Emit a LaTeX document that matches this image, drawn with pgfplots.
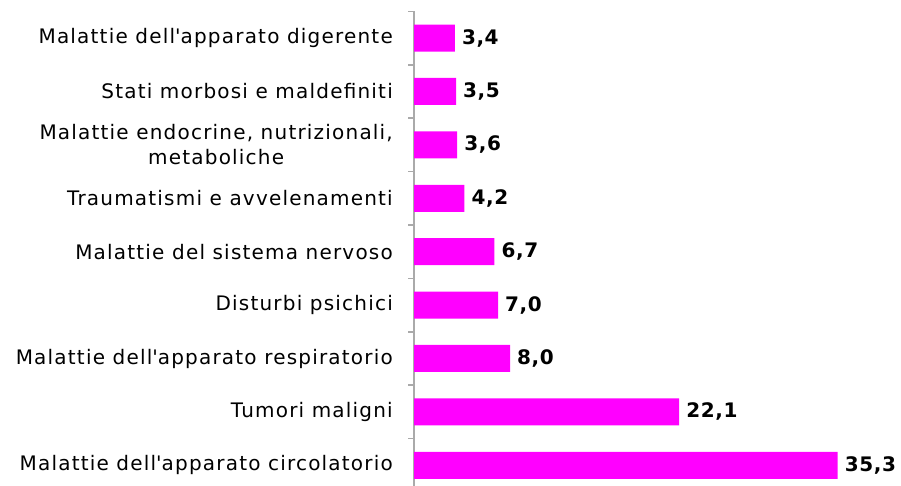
\documentclass[border=0pt]{standalone}
\usepackage{fontspec}
\setmainfont{DejaVu Sans}
\newfontfamily\labfont[LetterSpace=6]{DejaVu Sans}
\newfontfamily\numfont[LetterSpace=3]{DejaVu Sans Bold}
\usepackage{pgfplots}
\pgfplotsset{compat=1.18}
\definecolor{barmag}{RGB}{255,0,255}
\definecolor{axgray}{RGB}{170,170,170}
\begin{document}
\begin{tikzpicture}
\begin{axis}[
 at={(414pt,-6pt)}, anchor=south west,
 scale only axis, width=480pt, height=480.6pt,
 xmin=0, xmax=40,
 ymin=-0.5, ymax=8.5,
 xbar, bar width=27pt, bar shift=0pt,
 axis x line=none, axis y line*=left,
 axis line style={draw=axgray,line width=1.5pt,-},
 ytick={0,...,8},
 yticklabels={Malattie dell\textquotesingle apparato circolatorio, Tumori maligni, Malattie dell\textquotesingle apparato respiratorio, Disturbi psichici, Malattie del sistema nervoso, Traumatismi e avvelenamenti, {Malattie endocrine, nutrizionali,\\metaboliche}, Stati morbosi e maldefiniti, Malattie dell\textquotesingle apparato digerente},
 major tick length=0pt,
 minor ytick={-0.5,0.5,...,8.5}, minor tick length=6pt, tick align=outside,
 tick style={draw=axgray,line width=1.5pt},
 yticklabel style={font=\labfont\fontsize{20}{25}\selectfont, align=center, inner sep=0pt, xshift=-21pt},
 point meta=x,
 nodes near coords={\pgfmathprintnumber[use comma,fixed,fixed zerofill,precision=1,assume math mode=true]{\pgfplotspointmeta}},
 nodes near coords style={font=\numfont\fontsize{20}{22}\selectfont, anchor=west, inner sep=0pt, xshift=7pt},
 clip=false,
]
\addplot[fill=barmag, draw=none] coordinates {(35.3,0) (22.1,1) (8.0,2) (7.0,3) (6.7,4) (4.2,5) (3.6,6) (3.5,7) (3.4,8)};
\end{axis}
\pgfresetboundingbox
\useasboundingbox (0,0) rectangle (901pt,486pt);
\end{tikzpicture}
\end{document}
